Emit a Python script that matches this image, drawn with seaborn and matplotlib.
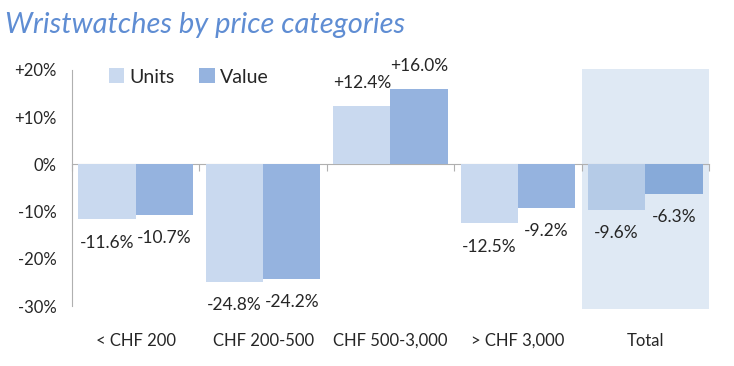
import pandas as pd
import matplotlib.pyplot as plt
import seaborn as sns

categories = ['< CHF 200', 'CHF 200-500', 'CHF 500-3,000', '> CHF 3,000', 'Total']
units = [-11.6, -24.8, 12.4, -12.5, -9.6]
value = [-10.7, -24.2, 16.0, -9.2, -6.3]
series_names = ['Units', 'Value']
y_ticks = [-30, -20, -10, 0, 10, 20]
y_tick_labels = ['-30%', '-20%', '-10%', '0%', '+10%', '+20%']

units_color = '#c9d9ef'
value_color = '#95b3df'
units_total_color = '#b5cbe7'
value_total_color = '#87aad9'
total_bg = '#dfe9f4'
grey = '#b0b0b0'


def draw_chart():
    sns.set_style("white")
    plt.rcParams['font.family'] = ['Lato', 'DejaVu Sans']

    df = pd.DataFrame({
        'category': categories * 2,
        'series': [series_names[0]] * len(categories) + [series_names[1]] * len(categories),
        'change': units + value,
    })

    fig = plt.figure(figsize=(7.34, 3.66), dpi=100)
    ax = fig.add_axes([0.098, 0.1557, 0.868, 0.6558])

    sns.barplot(data=df, x='category', y='change', hue='series',
                palette=[units_color, value_color], width=0.9, saturation=1,
                linewidth=0, ax=ax)

    # shaded box behind the Total group
    ax.axvspan(len(categories) - 1.5, len(categories) - 0.5, color=total_bg, zorder=0, lw=0)

    # total bars a touch darker, as they sit on the shaded box
    ax.containers[0][-1].set_facecolor(units_total_color)
    ax.containers[1][-1].set_facecolor(value_total_color)

    for cont, vals in zip(ax.containers, [units, value]):
        ax.bar_label(cont, labels=[f"{v:+.1f}%" for v in vals], padding=11, fontsize=12.5)

    ax.set_xlim(-0.5, len(categories) - 0.5)
    ax.set_ylim(-30.6, 20.2)
    ax.set_yticks(y_ticks)
    ax.set_yticklabels(y_tick_labels)
    ax.tick_params(axis='y', direction='out', length=5, color=grey, labelsize=12, pad=6)
    ax.tick_params(axis='x', length=0, labelsize=12, pad=17)
    ax.set_xlabel('')
    ax.set_ylabel('')

    for side in ['top', 'right', 'bottom']:
        ax.spines[side].set_visible(False)
    ax.spines['left'].set_color(grey)
    ax.spines['left'].set_bounds(-30, 20)

    # zero line with group separator ticks
    zero_axis = ax.secondary_xaxis(0, transform=ax.transData)
    zero_axis.set_xticks([i - 0.5 for i in range(len(categories) + 1)])
    zero_axis.set_xticklabels([])
    zero_axis.tick_params(direction='out', length=5, color=grey)
    zero_axis.spines['bottom'].set_color(grey)

    ax.legend(loc='upper left', bbox_to_anchor=(0.03, 1.075), ncol=2, frameon=False,
              handlelength=0.8, handleheight=0.8, handletextpad=0.25,
              columnspacing=1.3, fontsize=14)

    fig.text(0.007, 0.933, 'Wristwatches by price categories', fontsize=21,
             style='italic', color='#5f8dd3', va='center')

    fig.savefig('out.png', dpi=100)
    plt.close(fig)


if __name__ == "__main__":
    draw_chart()
